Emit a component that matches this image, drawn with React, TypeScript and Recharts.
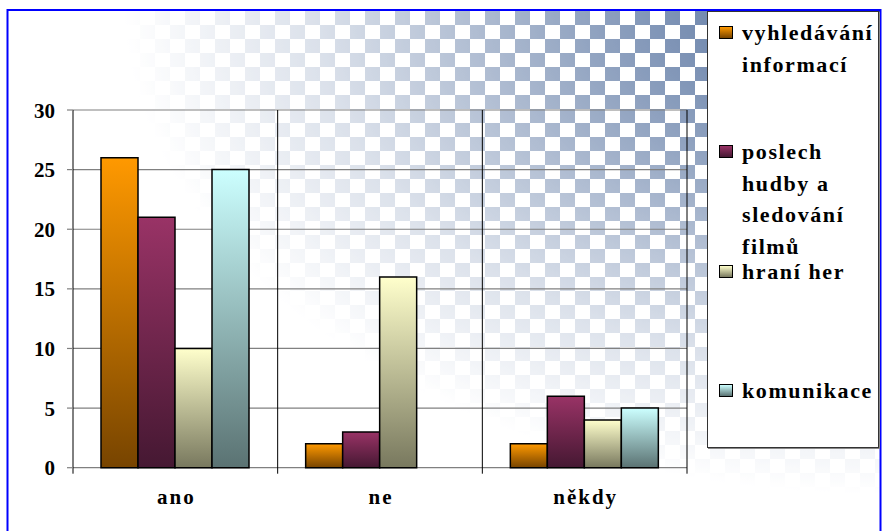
import React from 'react';
import { BarChart, Bar, XAxis, YAxis, CartesianGrid, Legend } from 'recharts';

const categories = ['ano', 'ne', 'někdy'];
const vyhledavani = [26, 2, 2];
const poslech = [21, 3, 6];
const hrani = [10, 16, 4];
const komunikace: (number | null)[] = [25, null, 5];
const yTicks = [0, 5, 10, 15, 20, 25, 30];

const seriesKeys = ['vyhledavani', 'poslech', 'hrani', 'komunikace'];
const seriesNames = ['vyhledávání informací', 'poslech hudby a sledování filmů', 'hraní her', 'komunikace'];
const gradTop = ['#ff9900', '#993366', '#ffffcc', '#ccffff'];
const gradBottom = ['#774400', '#451832', '#78785e', '#5a7272'];

const data = categories.map((c, i) => ({
  name: c,
  vyhledavani: vyhledavani[i],
  poslech: poslech[i],
  hrani: hrani[i],
  komunikace: komunikace[i],
}));

const FONT = "'Liberation Serif', serif";

const XTick = (props: any) => {
  const { x, y, payload } = props;
  return (
    <text
      x={x + 1}
      y={y + 36}
      textAnchor="middle"
      fill="#000"
      fontFamily={FONT}
      fontWeight="bold"
      fontSize={21}
      letterSpacing={2}
    >
      {payload.value}
    </text>
  );
};

const YTick = (props: any) => {
  const { x, y, payload } = props;
  return (
    <text x={x} y={y} dy="0.36em" textAnchor="end" fill="#000" fontFamily={FONT} fontWeight="bold" fontSize={21}>
      {payload.value}
    </text>
  );
};

const GridLine = (props: any) => {
  const { x1, y1, x2, y2 } = props;
  return <line x1={x1} y1={y1} x2={x2} y2={y2 + 6} stroke="#000" strokeWidth={1} />;
};

const LegendBox = (props: any) => {
  const payload = [...(props.payload || [])].sort(
    (a: any, b: any) => seriesKeys.indexOf(a.dataKey) - seriesKeys.indexOf(b.dataKey)
  );
  return (
    <div
      style={{
        width: 172,
        height: 437,
        boxSizing: 'border-box',
        background: '#fff',
        border: '1px solid #333',
        boxShadow: '1px 1px 0 #888',
        position: 'relative',
        fontFamily: FONT,
        fontWeight: 'bold',
        fontSize: 22,
        letterSpacing: 1.6,
        color: '#000',
      }}
    >
      {payload.map((p: any, i: number) => {
        const idx = seriesKeys.indexOf(p.dataKey);
        return (
          <div key={i} style={{ position: 'absolute', left: 11, top: 5 + i * 119.3, width: 160 }}>
            <div
              style={{
                position: 'absolute',
                left: 0,
                top: 9,
                width: 14,
                height: 13,
                boxSizing: 'border-box',
                border: '1.5px solid #000',
                background: `linear-gradient(${gradTop[idx]}, ${gradBottom[idx]})`,
              }}
            />
            <div style={{ position: 'absolute', left: 23, top: 0, width: 138, lineHeight: '31.5px' }}>
              {p.value}
            </div>
          </div>
        );
      })}
    </div>
  );
};

export default function App() {
  return (
    <div style={{ position: 'absolute', left: 0, top: 0, width: 884, height: 531, background: '#fff', overflow: 'hidden' }}>
      <svg width={884} height={531} style={{ position: 'absolute', left: 0, top: 0 }}>
        <defs>
          <pattern id="chk" width={30} height={28} patternUnits="userSpaceOnUse" x={5} y={11}>
            <rect x={0} y={0} width={15} height={14} fill="#4a6898" />
            <rect x={15} y={14} width={15} height={14} fill="#4a6898" />
          </pattern>
          <radialGradient
            id="fade"
            gradientUnits="userSpaceOnUse"
            cx={884}
            cy={0}
            r={760}
            gradientTransform="translate(884,0) scale(1,0.65) translate(-884,0)"
          >
            <stop offset="0" stopColor="#fff" />
            <stop offset="0.4" stopColor="#999" />
            <stop offset="0.75" stopColor="#333" />
            <stop offset="1" stopColor="#000" />
          </radialGradient>
          <mask id="fadeMask">
            <rect x={0} y={0} width={884} height={531} fill="url(#fade)" />
          </mask>
        </defs>
        <rect x={9} y={11} width={871} height={520} fill="url(#chk)" mask="url(#fadeMask)" />
        <rect x={7.5} y={10} width={873} height={540} fill="none" stroke="#0000ff" strokeWidth={2} />
      </svg>
      <div style={{ position: 'absolute', left: 0, top: 0 }}>
        <BarChart
          width={884}
          height={531}
          data={data}
          margin={{ top: 110, right: 197, bottom: 0, left: 0 }}
          barCategoryGap={28}
          barGap={0}
        >
          <defs>
            {seriesKeys.map((k, i) => (
              <linearGradient key={k} id={`g${i}`} x1="0" y1="0" x2="0" y2="1">
                <stop offset="0" stopColor={gradTop[i]} />
                <stop offset="1" stopColor={gradBottom[i]} />
              </linearGradient>
            ))}
          </defs>
          <CartesianGrid horizontal vertical={false} stroke="#808080" strokeWidth={1.2} />
          <CartesianGrid
            horizontal={false}
            vertical={<GridLine />}
            verticalCoordinatesGenerator={({ offset }: any) =>
              categories.concat(['']).map((_, i) => offset.left + (i * offset.width) / categories.length)
            }
          />
          <XAxis
            dataKey="name"
            height={63.3}
            tickLine={false}
            axisLine={false}
            tickSize={0}
            tickMargin={0}
            tick={<XTick />}
            interval={0}
          />
          <YAxis
            width={73}
            domain={[0, 30]}
            ticks={yTicks}
            interval={0}
            axisLine={false}
            tickLine={{ stroke: '#808080', strokeWidth: 1.2 }}
            tickSize={6}
            tickMargin={12}
            tick={<YTick />}
          />
          {seriesKeys.map((k, i) => (
            <Bar
              key={k}
              dataKey={k}
              name={seriesNames[i]}
              fill={`url(#g${i})`}
              stroke="#000"
              strokeWidth={1.5}
              isAnimationActive={false}
            />
          ))}
          <Legend
            layout="horizontal"
            align="center"
            verticalAlign="middle"
            wrapperStyle={{ left: 707, top: 11, width: 172, height: 437 }}
            content={<LegendBox />}
          />
        </BarChart>
      </div>
    </div>
  );
}
